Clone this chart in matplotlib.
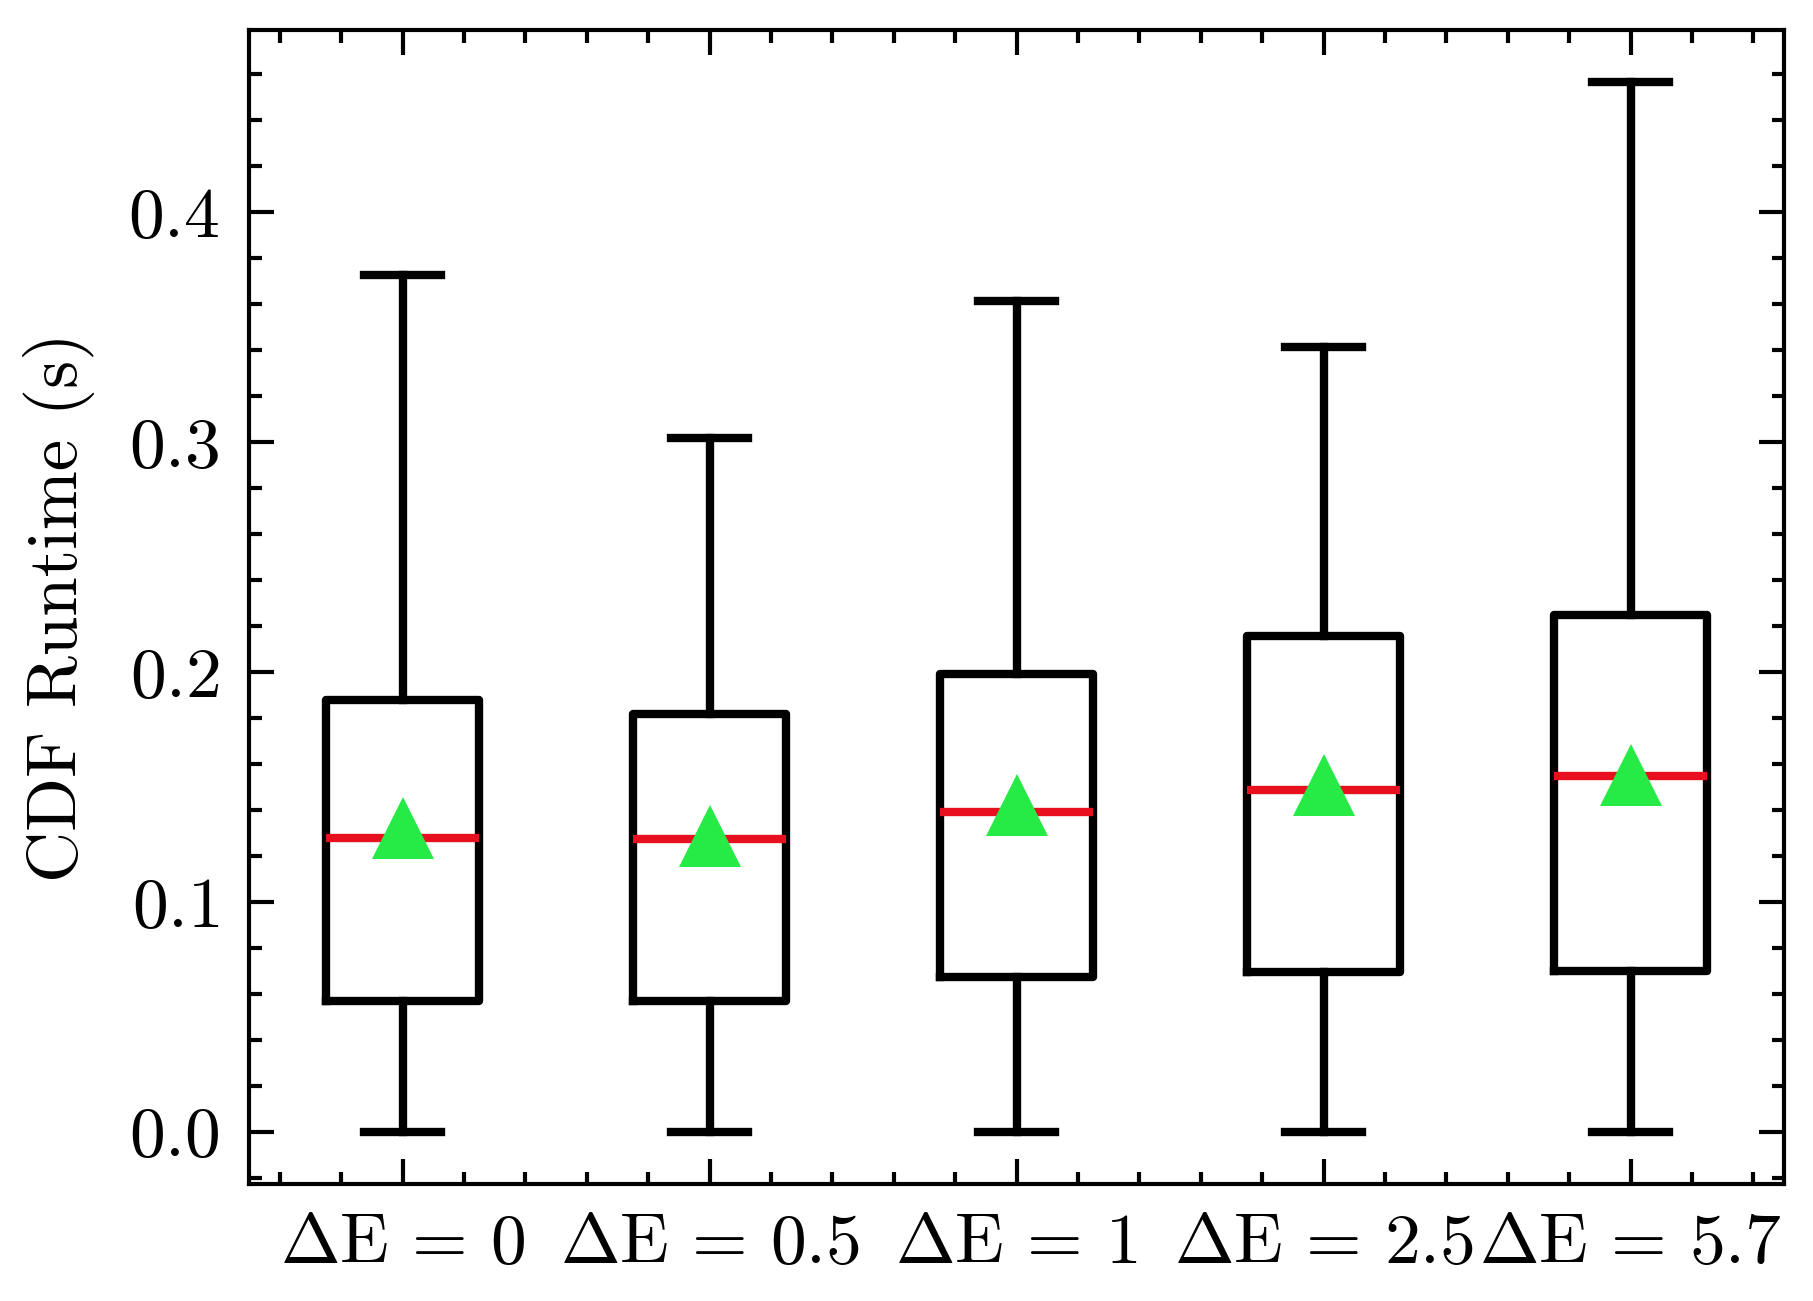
import matplotlib
matplotlib.use("Agg")
import matplotlib.pyplot as plt
from matplotlib.ticker import AutoMinorLocator

plt.rcParams.update({
    "font.family": "serif",
    "font.serif": ["cmr10", "DejaVu Serif"],
    "mathtext.fontset": "cm",
    "axes.formatter.use_mathtext": True,
    "axes.unicode_minus": False,
    "xtick.direction": "in",
    "ytick.direction": "in",
    "xtick.top": True,
    "ytick.right": True,
    "xtick.major.size": 3,
    "ytick.major.size": 3,
    "xtick.minor.size": 1.5,
    "ytick.minor.size": 1.5,
    "xtick.major.width": 0.5,
    "ytick.major.width": 0.5,
    "xtick.minor.width": 0.5,
    "ytick.minor.width": 0.5,
    "axes.linewidth": 0.5,
})

# ---- data ----
labels = [r"$\Delta\mathrm{E}\,=\,0$", r"$\Delta\mathrm{E}\,=\,0.5$", r"$\Delta\mathrm{E}\,=\,1$",
          r"$\Delta\mathrm{E}\,=\,2.5$", r"$\Delta\mathrm{E}\,=\,5.7$"]
whislo = [0.0, 0.0, 0.0, 0.0, 0.0]
q1 = [0.0570, 0.0570, 0.0671, 0.0693, 0.0700]
med = [0.1278, 0.1273, 0.1391, 0.1487, 0.1548]
q3 = [0.1877, 0.1815, 0.1993, 0.2155, 0.2248]
whishi = [0.3725, 0.3020, 0.3612, 0.3415, 0.4565]
mean = [0.1323, 0.1284, 0.1422, 0.1509, 0.1552]

stats = []
for i in range(len(labels)):
    stats.append(dict(label=labels[i], whislo=whislo[i], q1=q1[i], med=med[i],
                      q3=q3[i], whishi=whishi[i], mean=mean[i], fliers=[]))

W, H, DPI = 1813, 1301, 600
fig = plt.figure(figsize=(W / DPI, H / DPI), dpi=DPI)
ax = fig.add_axes([249 / W, 1 - 1184 / H, (1784 - 249) / W, (1184 - 30) / H])

ax.bxp(stats, showmeans=True, showfliers=False,
       boxprops=dict(color="black", linewidth=1.0),
       whiskerprops=dict(color="black", linewidth=1.0),
       capprops=dict(color="black", linewidth=1.0),
       medianprops=dict(color="#e8101e", linewidth=1.0),
       meanprops=dict(marker="^", markerfacecolor="#26eb47",
                      markeredgecolor="#26eb47", markeredgewidth=0,
                      markersize=7.5))

ax.xaxis.set_minor_locator(AutoMinorLocator(5))
ax.yaxis.set_minor_locator(AutoMinorLocator(5))
ax.tick_params(axis="both", which="major", labelsize=8.6)
ax.set_ylabel("CDF Runtime (s)", fontsize=8.5)
ax.yaxis.set_label_coords(-0.1, 0.5)

fig.savefig("out.png", dpi=DPI)
